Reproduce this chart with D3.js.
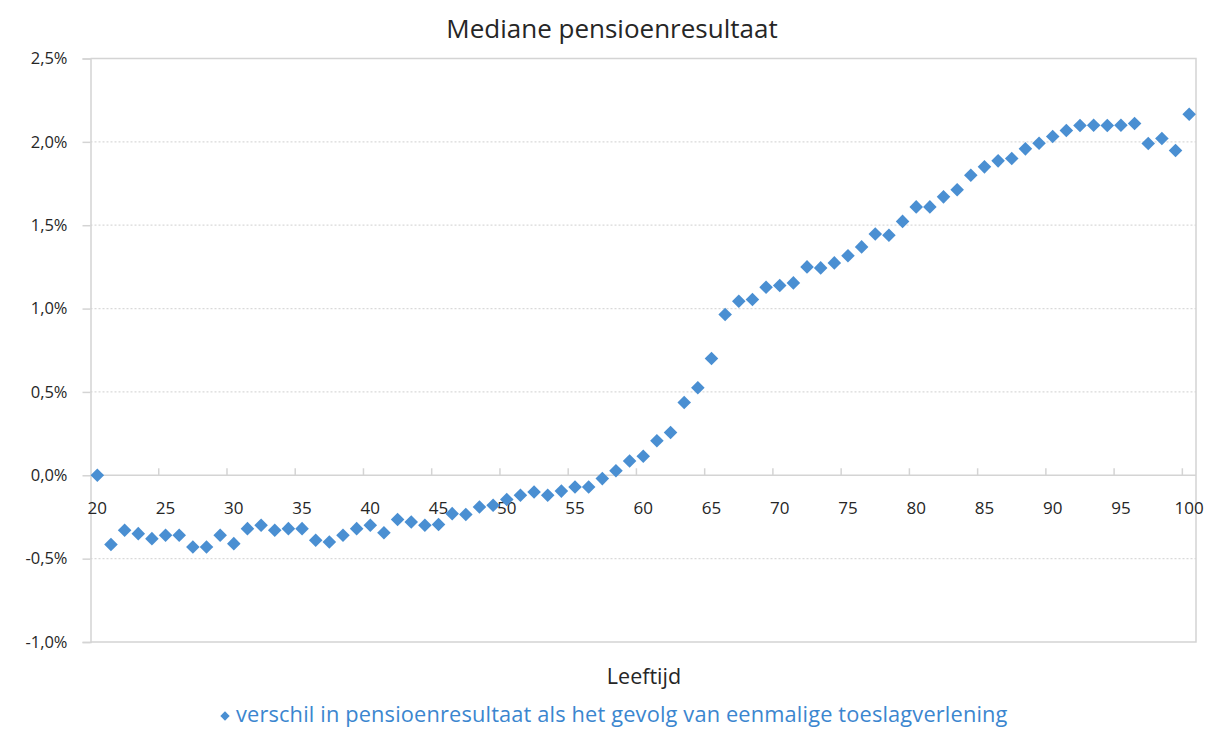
<!DOCTYPE html>
<html>
<head>
<meta charset="utf-8">
<script src="https://cdn.jsdelivr.net/npm/d3@7"></script>
<style>
  html, body { margin: 0; padding: 0; background: #fff; }
  svg { display: block; }
  text { font-family: "Open Sans", "Noto Sans", sans-serif; }
</style>
</head>
<body>
<svg id="chart" width="1210" height="729"></svg>
<script>
const title = "Mediane pensioenresultaat";
const xTitle = "Leeftijd";
const seriesName = "verschil in pensioenresultaat als het gevolg van eenmalige toeslagverlening";

const ages = d3.range(20, 101);
const values = [
  0.00, -0.415, -0.33, -0.35, -0.38, -0.36, -0.36, -0.43, -0.43, -0.36,
  -0.41, -0.32, -0.30, -0.33, -0.32, -0.32, -0.39, -0.40, -0.36, -0.32,
  -0.30, -0.345, -0.265, -0.28, -0.30, -0.295, -0.23, -0.235, -0.19, -0.18,
  -0.145, -0.12, -0.10, -0.12, -0.095, -0.07, -0.07, -0.02, 0.027, 0.086,
  0.114, 0.207, 0.257, 0.437, 0.525, 0.70, 0.964, 1.044, 1.054, 1.128,
  1.138, 1.154, 1.25, 1.244, 1.274, 1.317, 1.37, 1.447, 1.44, 1.523,
  1.61, 1.61, 1.67, 1.713, 1.80, 1.85, 1.886, 1.90, 1.958, 1.992,
  2.032, 2.068, 2.098, 2.10, 2.098, 2.10, 2.11, 1.99, 2.02, 1.948,
  2.166
];
const yTicks = [-1.0, -0.5, 0.0, 0.5, 1.0, 1.5, 2.0, 2.5];
const xLabelAges = d3.range(20, 101, 5);

const data = ages.map((a, i) => ({ age: a, value: values[i] }));

const svg = d3.select("#chart");
const pL = 90.5, pR = 1196, pT = 58.5, pB = 642;
const markerColor = "#4a8fd2";
const axisColor = "#d4d4d4";
const textColor = "#262626";

const x = d3.scaleBand().domain(ages).range([pL, pR]).paddingInner(0).paddingOuter(0);
const y = d3.scaleLinear().domain([-1, 2.5]).range([pB, pT]);
const fmt = v => d3.format(".1f")(v).replace(".", ",").replace("\u2212", "-") + "%";

// gridlines (dotted)
svg.append("g").selectAll("line")
  .data(yTicks.filter(v => v !== 0 && v !== -1 && v !== 2.5))
  .join("line")
  .attr("x1", pL).attr("x2", pR)
  .attr("y1", d => y(d)).attr("y2", d => y(d))
  .attr("stroke", "#d9d9d9").attr("stroke-width", 1.3)
  .attr("stroke-dasharray", "2,2");

// plot border: top, right, bottom
svg.append("path")
  .attr("d", `M${pL},${y(2.5)}H${pR}V${y(-1)}H${pL}`)
  .attr("fill", "none").attr("stroke", axisColor).attr("stroke-width", 1.5);

// y axis
const yAxis = d3.axisLeft(y).tickValues(yTicks).tickFormat(fmt).tickSize(8).tickPadding(15);
const gy = svg.append("g").attr("transform", `translate(${pL},0)`).call(yAxis);
gy.select(".domain").attr("stroke", axisColor).attr("stroke-width", 1.5);
gy.selectAll(".tick line").attr("stroke", axisColor).attr("stroke-width", 1.5);
gy.selectAll(".tick text").attr("fill", textColor).style("font-size", "16.5px");

// x axis at zero, ticks upward at category boundaries every 5
const gx = svg.append("g");
gx.append("line").attr("x1", pL).attr("x2", pR)
  .attr("y1", y(0)).attr("y2", y(0))
  .attr("stroke", axisColor).attr("stroke-width", 1.5);
gx.selectAll("line.tk").data(xLabelAges.filter(a => a > 20)).join("line")
  .attr("class", "tk")
  .attr("x1", d => x(d)).attr("x2", d => x(d))
  .attr("y1", y(0)).attr("y2", y(0) - 7)
  .attr("stroke", axisColor).attr("stroke-width", 1.5);
gx.selectAll("text").data(xLabelAges).join("text")
  .attr("x", d => x(d) + x.bandwidth() / 2)
  .attr("y", y(0) + 39)
  .attr("text-anchor", "middle")
  .attr("fill", textColor).style("font-size", "17px")
  .text(d => d);

// markers
const diamond = d3.symbol().type(d3.symbolSquare).size(92);
svg.append("g").selectAll("path").data(data).join("path")
  .attr("d", diamond)
  .attr("transform", d => `translate(${x(d.age) + x.bandwidth() / 2},${y(d.value)}) rotate(45)`)
  .attr("fill", markerColor);

// title
svg.append("text").attr("x", 612).attr("y", 38).attr("text-anchor", "middle")
  .attr("fill", textColor).style("font-size", "26px").text(title);

// x-axis title
svg.append("text").attr("x", 644).attr("y", 684).attr("text-anchor", "middle")
  .attr("fill", textColor).style("font-size", "21.5px").text(xTitle);

// legend
const lg = svg.append("g");
lg.append("path").attr("d", d3.symbol().type(d3.symbolSquare).size(44))
  .attr("transform", "translate(225,716) rotate(45)").attr("fill", markerColor);
lg.append("text").attr("x", 236).attr("y", 722)
  .attr("fill", "#3b86cf").style("font-size", "21.8px").style("letter-spacing", "0.15px").text(seriesName);
</script>
</body>
</html>
